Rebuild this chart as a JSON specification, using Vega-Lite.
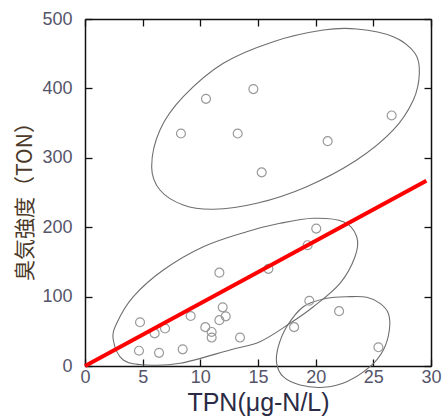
{
  "$schema": "https://vega.github.io/schema/vega-lite/v6.json",
  "width": 346,
  "height": 347,
  "autosize": {"type": "none"},
  "padding": {"left": 85, "top": 19, "right": 11, "bottom": 51},
  "background": "white",
  "config": {
    "view": {"stroke": null},
    "axis": {"grid": false, "domainColor": "#111", "domainWidth": 1.5, "tickColor": "#111", "tickWidth": 1.3, "labelFont": "Liberation Sans", "labelFontSize": 18, "labelColor": "#55556a", "labelFlush": false}
  },
  "datasets": {
    "pts": [
      {"x": 10.49, "y": 385}, {"x": 14.6, "y": 399}, {"x": 8.32, "y": 335}, {"x": 13.24, "y": 335},
      {"x": 21.04, "y": 324}, {"x": 15.32, "y": 279}, {"x": 26.59, "y": 361},
      {"x": 4.77, "y": 63}, {"x": 6.04, "y": 47}, {"x": 6.94, "y": 54}, {"x": 9.16, "y": 72},
      {"x": 4.68, "y": 22}, {"x": 6.42, "y": 19}, {"x": 8.47, "y": 24}, {"x": 10.43, "y": 56},
      {"x": 10.98, "y": 49}, {"x": 10.98, "y": 41}, {"x": 11.94, "y": 84.5}, {"x": 12.2, "y": 71.6},
      {"x": 11.65, "y": 66}, {"x": 13.44, "y": 41}, {"x": 11.65, "y": 134.5}, {"x": 15.9, "y": 140},
      {"x": 19.3, "y": 174}, {"x": 20.05, "y": 198}, {"x": 19.45, "y": 94}, {"x": 18.13, "y": 56},
      {"x": 22.03, "y": 79}, {"x": 25.44, "y": 27}
    ],
    "reg": [{"x": 0, "y": 0}, {"x": 29.6, "y": 267}],
    "ell": [
      {"e": "a", "i": 1, "x": 5.78, "y": 287.2}, {"e": "a", "i": 2, "x": 6.5, "y": 340.1},
      {"e": "a", "i": 3, "x": 8.52, "y": 388.0}, {"e": "a", "i": 4, "x": 11.99, "y": 436.2},
      {"e": "a", "i": 5, "x": 16.33, "y": 467.3}, {"e": "a", "i": 6, "x": 20.66, "y": 484.1},
      {"e": "a", "i": 7, "x": 23.56, "y": 485.6}, {"e": "a", "i": 8, "x": 26.73, "y": 474.5},
      {"e": "a", "i": 9, "x": 28.61, "y": 450.6}, {"e": "a", "i": 10, "x": 28.99, "y": 421.8},
      {"e": "a", "i": 11, "x": 28.47, "y": 383.3}, {"e": "a", "i": 12, "x": 26.73, "y": 340.1},
      {"e": "a", "i": 13, "x": 23.56, "y": 296.8}, {"e": "a", "i": 14, "x": 19.22, "y": 258.4},
      {"e": "a", "i": 15, "x": 14.89, "y": 234.4}, {"e": "a", "i": 16, "x": 11.12, "y": 225.8},
      {"e": "a", "i": 17, "x": 8.52, "y": 232.0}, {"e": "a", "i": 18, "x": 6.5, "y": 253.6},
      {"e": "b", "i": 1, "x": 2.45, "y": 37.5}, {"e": "b", "i": 2, "x": 2.75, "y": 61.5},
      {"e": "b", "i": 3, "x": 4.19, "y": 99.9}, {"e": "b", "i": 4, "x": 6.79, "y": 138.3},
      {"e": "b", "i": 5, "x": 10.26, "y": 171.9}, {"e": "b", "i": 6, "x": 14.02, "y": 193.5},
      {"e": "b", "i": 7, "x": 16.91, "y": 205.6}, {"e": "b", "i": 8, "x": 19.8, "y": 212.8},
      {"e": "b", "i": 9, "x": 22.4, "y": 207.9}, {"e": "b", "i": 10, "x": 23.56, "y": 186.3},
      {"e": "b", "i": 11, "x": 23.41, "y": 157.5}, {"e": "b", "i": 12, "x": 22.11, "y": 119.2},
      {"e": "b", "i": 13, "x": 19.8, "y": 85.4}, {"e": "b", "i": 14, "x": 17.78, "y": 61.5},
      {"e": "b", "i": 15, "x": 15.17, "y": 35.0}, {"e": "b", "i": 16, "x": 12.57, "y": 23.1},
      {"e": "b", "i": 17, "x": 8.24, "y": 3.9}, {"e": "b", "i": 18, "x": 5.35, "y": 1.4},
      {"e": "b", "i": 19, "x": 3.32, "y": 8.6},
      {"e": "c", "i": 1, "x": 22.98, "y": 99.9}, {"e": "c", "i": 2, "x": 20.96, "y": 97.6},
      {"e": "c", "i": 3, "x": 18.93, "y": 85.4}, {"e": "c", "i": 4, "x": 17.49, "y": 56.6},
      {"e": "c", "i": 5, "x": 16.76, "y": 27.8}, {"e": "c", "i": 6, "x": 16.62, "y": 3.9},
      {"e": "c", "i": 7, "x": 17.19, "y": -15.4}, {"e": "c", "i": 8, "x": 18.64, "y": -27.4},
      {"e": "c", "i": 9, "x": 20.66, "y": -30.7}, {"e": "c", "i": 10, "x": 22.69, "y": -22.6},
      {"e": "c", "i": 11, "x": 24.71, "y": -1.0}, {"e": "c", "i": 12, "x": 25.87, "y": 23.1},
      {"e": "c", "i": 13, "x": 26.39, "y": 51.9}, {"e": "c", "i": 14, "x": 26.3, "y": 75.9},
      {"e": "c", "i": 15, "x": 25.58, "y": 90.3}, {"e": "c", "i": 16, "x": 24.43, "y": 99.0}
    ]
  },
  "resolve": {"axis": {"x": "independent", "y": "independent"}},
  "layer": [
    {
      "data": {"name": "ell"},
      "mark": {"type": "line", "interpolate": "cardinal-closed", "stroke": "#6e6e6e", "strokeWidth": 1.1, "clip": false},
      "encoding": {
        "x": {"field": "x", "type": "quantitative", "scale": {"domain": [0, 30], "nice": false, "zero": false},
          "axis": {"orient": "bottom", "values": [0, 5, 10, 15, 20, 25, 30], "tickSize": -7, "labelPadding": 9,
            "title": "TPN(μg-N/L)", "titleFont": "Liberation Sans", "titleFontSize": 25, "titleFontWeight": "normal", "titleColor": "#2b2b45", "titleY": 36, "titleBaseline": "middle"}},
        "y": {"field": "y", "type": "quantitative", "scale": {"domain": [0, 500], "nice": false, "zero": false},
          "axis": {"orient": "left", "values": [0, 100, 200, 300, 400, 500], "tickSize": -7, "labelPadding": 20,
            "title": "臭気強度（TON）", "titleFont": "Noto Sans CJK JP", "titleFontSize": 21, "titleFontWeight": "normal", "titleColor": "#4a3828", "titleAngle": -90, "titleX": -60, "titleY": 177, "titleBaseline": "middle", "titleAlign": "center"}},
        "detail": {"field": "e"},
        "order": {"field": "i", "type": "quantitative"}
      }
    },
    {
      "data": {"name": "pts"},
      "mark": {"type": "point", "shape": "circle", "filled": false, "stroke": "#9a9a9a", "strokeWidth": 1.2, "size": 80, "opacity": 1},
      "encoding": {
        "x": {"field": "x", "type": "quantitative", "axis": null},
        "y": {"field": "y", "type": "quantitative", "axis": null}
      }
    },
    {
      "data": {"name": "reg"},
      "mark": {"type": "line", "stroke": "#ff0000", "strokeWidth": 4},
      "encoding": {
        "x": {"field": "x", "type": "quantitative", "axis": null},
        "y": {"field": "y", "type": "quantitative", "axis": null}
      }
    },
    {
      "data": {"name": "reg"},
      "mark": {"type": "point", "opacity": 0},
      "encoding": {
        "x": {"field": "x", "type": "quantitative",
          "axis": {"orient": "top", "values": [0, 5, 10, 15, 20, 25, 30], "tickSize": -7, "labels": false, "title": null}},
        "y": {"field": "y", "type": "quantitative",
          "axis": {"orient": "right", "values": [0, 100, 200, 300, 400, 500], "tickSize": -7, "labels": false, "title": null}}
      }
    }
  ]
}
